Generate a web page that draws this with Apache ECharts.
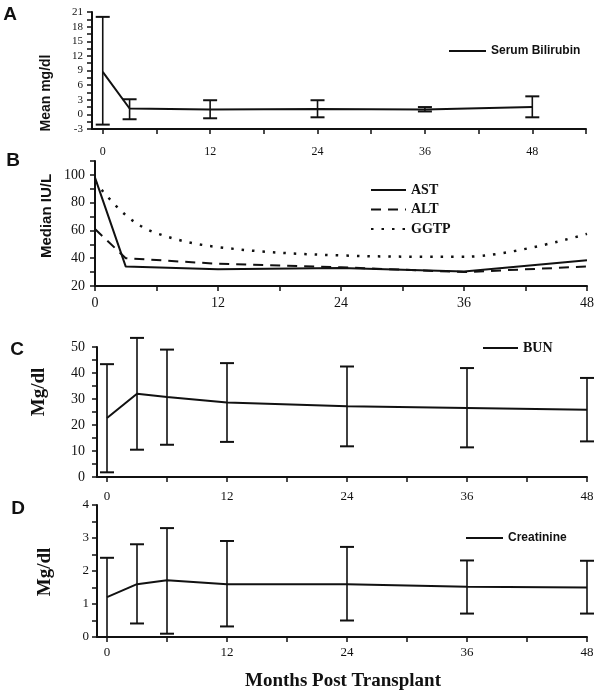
<!DOCTYPE html>
<html>
<head>
<meta charset="utf-8">
<script src="https://cdn.jsdelivr.net/npm/echarts@6/dist/echarts.min.js"></script>
<style>
html,body{margin:0;padding:0;background:#fff;}
#c{width:602px;height:697px;}
</style>
</head>
<body>
<div id="c"></div>
<script>
// ---------- DATA ----------
const monthsA = [0, 3, 12, 24, 36, 48];
const bilirubinMean = [8.7, 1.2, 1.0, 1.1, 1.0, 1.5];
const bilirubinLow  = [-2.1, -1.0, -0.8, -0.6, 0.6, -0.6];
const bilirubinHigh = [20, 3.1, 2.9, 2.9, 1.5, 3.7];

const monthsAST = [0, 3, 12, 24, 36, 48];
const astMedian = [98, 34, 32, 33, 30.5, 38.5];
const monthsALT = [0, 3, 12, 24, 36, 48];
const altMedian = [61, 40, 36, 33.5, 30, 34];
const monthsGGTP = [0, 3, 6, 12, 24, 36, 48];
const ggtpMedian = [95, 71, 58, 48, 42, 41, 57.5];

const monthsCD = [0, 3, 6, 12, 24, 36, 48];
const bunMean = [22.7, 32, 30.8, 28.7, 27.2, 26.5, 25.9];
const bunLow  = [1.8, 10.5, 12.4, 13.5, 11.8, 11.4, 13.7];
const bunHigh = [43.4, 53.5, 49, 43.8, 42.5, 41.9, 38.1];

const creatMean = [1.21, 1.6, 1.72, 1.6, 1.6, 1.52, 1.5];
const creatLow  = [0, 0.41, 0.1, 0.32, 0.5, 0.71, 0.71];
const creatHigh = [2.4, 2.81, 3.3, 2.91, 2.73, 2.32, 2.31];

const xLabelMonths = [0, 12, 24, 36, 48];
const xTickA = [0, 6, 12, 18, 24, 30, 36, 42, 48, 54];
const xTickBCD = [0, 6, 12, 18, 24, 30, 36, 42, 48];
const yLabelsA = [-3, 0, 3, 6, 9, 12, 15, 18, 21];
const yTicksA = [-3,-1.5,0,1.5,3,4.5,6,7.5,9,10.5,12,13.5,15,16.5,18,19.5,21];
const yLabelsB = [20, 40, 60, 80, 100];
const yTicksB = [20, 30, 40, 50, 60, 70, 80, 90, 100, 110];
const yLabelsC = [0, 10, 20, 30, 40, 50];
const yTicksC = [0, 5, 10, 15, 20, 25, 30, 35, 40, 45, 50];
const yLabelsD = [0, 1, 2, 3, 4];
const yTicksD = [0, 0.5, 1, 1.5, 2, 2.5, 3, 3.5, 4];

// ---------- STYLE ----------
const INK = '#111';
const SERIF = '"Liberation Serif","DejaVu Serif",serif';
const SANS = '"Liberation Sans","DejaVu Sans",sans-serif';

function pairs(xs, ys) { return xs.map((x, i) => [x, ys[i]]); }
function errData(xs, lo, hi) { return xs.map((x, i) => [x, lo[i], hi[i]]); }

function errRender(params, api) {
  const x = api.value(0), lo = api.value(1), hi = api.value(2);
  const p1 = api.coord([x, lo]);
  const p2 = api.coord([x, hi]);
  const hw = 7;
  const st = { stroke: INK, lineWidth: 1.6 };
  return {
    type: 'group',
    children: [
      { type: 'line', shape: { x1: p1[0], y1: p1[1], x2: p2[0], y2: p2[1] }, style: st },
      { type: 'line', shape: { x1: p1[0] - hw, y1: p1[1], x2: p1[0] + hw, y2: p1[1] }, style: { stroke: INK, lineWidth: 2 } },
      { type: 'line', shape: { x1: p2[0] - hw, y1: p2[1], x2: p2[0] + hw, y2: p2[1] }, style: { stroke: INK, lineWidth: 2 } }
    ]
  };
}

function xAxis(gi, min, max, ticks, margin, fs) {
  return {
    type: 'value', gridIndex: gi, min: min, max: max,
    axisLine: { onZero: false, lineStyle: { color: INK, width: 2 } },
    axisTick: { customValues: ticks, length: 5, lineStyle: { color: INK, width: 1.5 } },
    axisLabel: { customValues: xLabelMonths, margin: margin, color: INK, fontFamily: SERIF, fontSize: fs },
    splitLine: { show: false }
  };
}
function yAxis(gi, min, max, labels, ticks, margin, fs) {
  return {
    type: 'value', gridIndex: gi, min: min, max: max,
    axisLine: { show: true, onZero: false, lineStyle: { color: INK, width: 2 } },
    axisTick: { show: true, customValues: ticks, length: 5, lineStyle: { color: INK, width: 1.5 } },
    axisLabel: { customValues: labels, margin: margin, color: INK, fontFamily: SERIF, fontSize: fs },
    splitLine: { show: false }
  };
}

function lineSeries(name, gi, data, lineStyle, smooth) {
  return {
    name: name, type: 'line', xAxisIndex: gi, yAxisIndex: gi,
    data: data, symbol: 'none', smooth: smooth || false,
    color: INK,
    lineStyle: Object.assign({ color: INK, width: 2 }, lineStyle || {}),
    z: 3, animation: false
  };
}
function errSeries(gi, data) {
  return {
    type: 'custom', xAxisIndex: gi, yAxisIndex: gi,
    renderItem: errRender, data: data, clip: false,
    encode: { x: 0, y: [1, 2] }, z: 4, animation: false, silent: true
  };
}

function legend(names, left, top, itemWidth, font, extra) {
  return Object.assign({
    data: names, left: left, top: top, itemWidth: itemWidth, itemHeight: 14,
    selectedMode: false, padding: 0,
    itemStyle: { opacity: 0, borderWidth: 0 },
    textStyle: { color: INK, fontWeight: 'bold', fontFamily: font.family, fontSize: font.size }
  }, extra || {});
}

function vtext(text, x, y, font, size) {
  return {
    type: 'text', x: x, y: y, rotation: Math.PI / 2,
    style: { text: text, fill: INK, font: 'bold ' + size + 'px ' + font, align: 'center', verticalAlign: 'middle' }
  };
}
function htext(text, x, y, font, size) {
  return {
    type: 'text', x: x, y: y,
    style: { text: text, fill: INK, font: 'bold ' + size + 'px ' + font, align: 'center', verticalAlign: 'middle' }
  };
}

const chart = echarts.init(document.getElementById('c'), null, { renderer: 'canvas' });
chart.setOption({
  backgroundColor: '#fff',
  animation: false,
  grid: [
    { left: 92, top: 12, width: 494, height: 117 },
    { left: 95, top: 161, width: 492, height: 125 },
    { left: 97, top: 347, width: 490, height: 130 },
    { left: 97, top: 505, width: 490, height: 132 }
  ],
  xAxis: [
    xAxis(0, -1.2, 54, xTickA, 17, 12),
    xAxis(1, 0, 48, xTickBCD, 10, 14),
    xAxis(2, -1, 48, xTickBCD, 13, 13),
    xAxis(3, -1, 48, xTickBCD, 9, 13)
  ],
  yAxis: [
    yAxis(0, -3, 21, yLabelsA, yTicksA, 9, 11),
    yAxis(1, 20, 110, yLabelsB, yTicksB, 10, 14),
    yAxis(2, 0, 50, yLabelsC, yTicksC, 12, 14),
    yAxis(3, 0, 4, yLabelsD, yTicksD, 8, 13)
  ],
  legend: [
    legend(['Serum Bilirubin'], 448, 45, 37, { family: SANS, size: 12 }),
    legend(['AST', 'ALT', 'GGTP'], 370, 183, 35, { family: SERIF, size: 14 }, { orient: 'vertical', itemGap: 5.5 }),
    legend(['BUN'], 482, 341, 35, { family: SERIF, size: 14 }),
    legend(['Creatinine'], 465, 532, 37, { family: SANS, size: 12 })
  ],
  series: [
    lineSeries('Serum Bilirubin', 0, pairs(monthsA, bilirubinMean)),
    errSeries(0, errData(monthsA, bilirubinLow, bilirubinHigh)),
    lineSeries('AST', 1, pairs(monthsAST, astMedian)),
    lineSeries('ALT', 1, pairs(monthsALT, altMedian), { type: [10, 7] }),
    lineSeries('GGTP', 1, pairs(monthsGGTP, ggtpMedian), { type: [2.5, 8], width: 2.5 }, 0.35),
    lineSeries('BUN', 2, pairs(monthsCD, bunMean)),
    errSeries(2, errData(monthsCD, bunLow, bunHigh)),
    lineSeries('Creatinine', 3, pairs(monthsCD, creatMean)),
    errSeries(3, errData(monthsCD, creatLow, creatHigh))
  ],
  graphic: [
    htext('A', 10, 15, SANS, 19),
    htext('B', 13, 161, SANS, 19),
    htext('C', 17, 350, SANS, 19),
    htext('D', 18, 509, SANS, 19),
    vtext('Mean mg/dl', 46, 93, SANS, 14),
    vtext('Median IU/L', 47, 216, SANS, 15),
    vtext('Mg/dl', 39, 392, SERIF, 19),
    vtext('Mg/dl', 45, 572, SERIF, 19),
    htext('Months Post Transplant', 343, 681, SERIF, 19)
  ]
});
</script>
</body>
</html>
